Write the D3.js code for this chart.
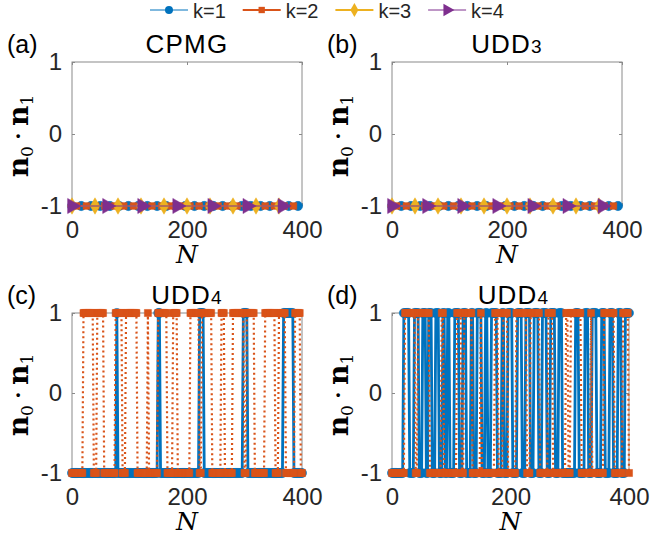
<!DOCTYPE html>
<html><head><meta charset="utf-8">
<script src="https://cdn.jsdelivr.net/npm/d3@7"></script>
<style>body{margin:0;background:#fff}</style>
</head><body><svg id="c" width="652" height="543"></svg>
<script>
// ---------- data ----------
const seriesNames = ["k=1", "k=2", "k=3", "k=4"];
const colors = ["#0072BD", "#D95319", "#EDB120", "#7E2F8E"];
const yTicks = [-1, 0, 1];
const xTicks = [0, 200, 400];
const panelLetters = ["(a)", "(b)", "(c)", "(d)"];
const panelTitles = [["CPMG", ""], ["UDD", "3"], ["UDD", "4"], ["UDD", "4"]];

// (a) CPMG and (b) UDD3: every series stays at -1
const flatK1N = [0,16,33,49,66,82,98,115,131,148,164,180,197,213,230,246,262,279,295,311,328,344,361,377,393];
const flatK1V = [-1,-1,-1,-1,-1,-1,-1,-1,-1,-1,-1,-1,-1,-1,-1,-1,-1,-1,-1,-1,-1,-1,-1,-1,-1];
const flatK2N = [8,25,41,57,74,90,107,123,139,156,172,189,205,221,238,254,270,287,303,320,336,352,369,385];
const flatK2V = [-1,-1,-1,-1,-1,-1,-1,-1,-1,-1,-1,-1,-1,-1,-1,-1,-1,-1,-1,-1,-1,-1,-1,-1];
const flatK3N = [0,40,80,120,160,200,240,280,320,360];
const flatK3V = [-1,-1,-1,-1,-1,-1,-1,-1,-1,-1];
const flatK4N = [0,61,122,183,244,305,366];
const flatK4V = [-1,-1,-1,-1,-1,-1,-1];

// (c),(d) UDD4: value (+1/-1) at each N, given as start value and the N where it flips
const udd4N = d3.range(0, 401, 2);
const cK1Start = -1;
const cK1Flips = [77,80,149,154,222,230,297,305,368,385];
const cK2Start = -1;
const cK2Flips = [20,37,43,56,76,88,94,113,131,134,150,165,176,184,205,222,226,243,260,266,280,300,304,318,336,353,359,372,388,397];
const dK1Start = -1;
const dK1Flips = [20,29,38,45,51,57,62,67,74,80,85,89,93,98,105,113,120,125,133,138,144,151,157,162,168,177,185,190,196,203,212,219,225,234,240,247,253,261,268,275,282,287,309,316,325,331,338,346,353,360,367,374,381,388,394];
const dK2Start = -1;
const dK2Flips = [22,39,44,64,84,87,109,118,122,136,149,152,174,180,188,196,210,227,233,250,264,272,293,297,302,319,336,338,357,376,390,399];

// ---------- helpers ----------
function pts(N, V) { return N.map((n, i) => ({ N: n, v: V[i] })); }
function fromFlips(N, start, flips) {
  return N.map(n => {
    const c = flips.filter(f => f <= n).length;
    return { N: n, v: c % 2 ? -start : start };
  });
}

const flatSeries = [pts(flatK1N, flatK1V), pts(flatK2N, flatK2V), pts(flatK3N, flatK3V), pts(flatK4N, flatK4V)];
const cSeries = [fromFlips(udd4N, cK1Start, cK1Flips), fromFlips(udd4N, cK2Start, cK2Flips)];
const dSeries = [fromFlips(udd4N, dK1Start, dK1Flips), fromFlips(udd4N, dK2Start, dK2Flips)];

const svg = d3.select("#c");
const TXT = "#262626";
const sans = "'Liberation Sans', Arial, sans-serif";

const symTypes = [d3.symbolCircle, d3.symbolSquare, d3.symbolDiamond, d3.symbolTriangle];
const symRot = [0, 0, 0, 90];

const panels = [
  { x0: 72, x1: 302, y0: 62, y1: 206, data: flatSeries, big: false },
  { x0: 392, x1: 622, y0: 62, y1: 206, data: flatSeries, big: false },
  { x0: 72, x1: 302, y0: 313, y1: 473, data: cSeries, big: true },
  { x0: 392, x1: 629, y0: 313, y1: 473, data: dSeries, big: true }
];

const lineStyles = {
  small: [
    { w: 1.5, dash: null, size: 68 },
    { w: 2, dash: "2,2", size: 46 },
    { w: 1.2, dash: null, size: 78 },
    { w: 1.2, dash: null, size: 100 }
  ],
  big: [
    { w: 2.8, dash: null, size: 66 },
    { w: 2.2, dash: "2,3", size: 50 },
  ]
};

const tickFmt = d => String(d);

panels.forEach((p, pi) => {
  const x = d3.scaleLinear().domain([0, 400]).range([p.x0, p.x1]);
  const y = d3.scaleLinear().domain([-1, 1]).range([p.y1, p.y0]);
  const g = svg.append("g");

  // box
  g.append("rect").attr("x", p.x0).attr("y", p.y0)
    .attr("width", p.x1 - p.x0).attr("height", p.y1 - p.y0)
    .attr("fill", "none").attr("stroke", "#8a8a8a").attr("stroke-width", 1);

  // axes
  const ax = g.append("g").attr("transform", `translate(${p.x0},0)`)
    .call(d3.axisLeft(y).tickValues(yTicks).tickSize(-3).tickPadding(10).tickFormat(tickFmt));
  const ax2 = g.append("g").attr("transform", `translate(${p.x1},0)`)
    .call(d3.axisRight(y).tickValues(yTicks).tickSize(-3).tickFormat(""));
  const bx = g.append("g").attr("transform", `translate(0,${p.y1})`)
    .call(d3.axisBottom(x).tickValues(xTicks).tickSize(-3).tickPadding(10).tickFormat(tickFmt));
  const bx2 = g.append("g").attr("transform", `translate(0,${p.y0})`)
    .call(d3.axisTop(x).tickValues(xTicks).tickSize(-3).tickFormat(""));
  [ax, ax2, bx, bx2].forEach(a => {
    a.select(".domain").remove();
    a.selectAll("line").attr("stroke", "#8a8a8a");
    a.selectAll("text").attr("font-family", sans).attr("font-size", 24).attr("fill", TXT);
  });
  bx.selectAll("text").attr("dy", "0.92em");

  // data
  const styles = p.big ? lineStyles.big : lineStyles.small;
  p.data.forEach((s, si) => {
    const st = styles[si];
    const line = d3.line().x(d => x(d.N)).y(d => y(d.v));
    g.append("path").datum(s).attr("d", line)
      .attr("fill", "none").attr("stroke", colors[si]).attr("stroke-width", st.w)
      .attr("stroke-dasharray", st.dash);
    const sym = d3.symbol().type(symTypes[si]).size(st.size);
    g.append("g").selectAll("path").data(s).join("path")
      .attr("d", sym)
      .attr("transform", d => `translate(${x(d.N)},${y(d.v)}) rotate(${symRot[si]})`)
      .attr("fill", colors[si]).attr("stroke", colors[si]).attr("stroke-width", 0.5);
  });

  // title
  const cx = (p.x0 + p.x1) / 2 + (pi === 3 ? 3 : 0);
  const ty = p.y0 - 9;
  const t = svg.append("text").attr("x", cx).attr("y", ty)
    .attr("text-anchor", "middle").attr("font-family", sans).attr("font-size", 26)
    .attr("letter-spacing", 1.2).attr("fill", "#000");
  t.append("tspan").text(panelTitles[pi][0]);
  if (panelTitles[pi][1]) t.append("tspan").attr("font-size", 19).text(panelTitles[pi][1]);

  // panel letter
  svg.append("text").attr("x", p.x0 - 65).attr("y", ty)
    .attr("font-family", sans).attr("font-size", 25).attr("fill", "#000").text(panelLetters[pi]);

  // y label
  const ycx = p.x0 - 44, ycy = (p.y0 + p.y1) / 2 + 2;
  const yl = svg.append("text").attr("transform", `translate(${ycx},${ycy}) rotate(-90)`)
    .attr("text-anchor", "middle").attr("font-family", "'DejaVu Serif', serif").attr("fill", "#000");
  yl.append("tspan").attr("font-weight", "bold").attr("font-size", 28).text("n");
  yl.append("tspan").attr("font-size", 17).attr("dy", 5).text("0");
  yl.append("tspan").attr("font-size", 28).attr("dy", -5).text("\u2009\u00B7\u2009");
  yl.append("tspan").attr("font-weight", "bold").attr("font-size", 28).text("n");
  yl.append("tspan").attr("font-size", 17).attr("dy", 5).text("1");

  // x label
  svg.append("text").attr("x", (p.x0 + p.x1) / 2).attr("y", p.y1 + 57)
    .attr("text-anchor", "middle").attr("font-family", "'DejaVu Serif', serif")
    .attr("font-style", "italic").attr("font-size", 25).attr("fill", "#000").text("N");
});

// legend
const legX0 = 150, legStep = 92.7, legY = 10;
const legStyles = [{ w: 1, size: 50 }, { w: 2, size: 40 }, { w: 2, size: 56 }, { w: 1, size: 70 }];
seriesNames.forEach((name, i) => {
  const lx = legX0 + i * legStep;
  const g = svg.append("g");
  g.append("line").attr("x1", lx).attr("x2", lx + 38).attr("y1", legY).attr("y2", legY)
    .attr("stroke", colors[i]).attr("stroke-width", legStyles[i].w);
  g.append("path").attr("d", d3.symbol().type(symTypes[i]).size(legStyles[i].size))
    .attr("transform", `translate(${lx + 19},${legY}) rotate(${symRot[i]})`)
    .attr("fill", colors[i]);
  g.append("text").attr("x", lx + 43).attr("y", legY + 8)
    .attr("font-family", sans).attr("font-size", 20).attr("fill", TXT).text(name);
});
</script>
</body></html>
